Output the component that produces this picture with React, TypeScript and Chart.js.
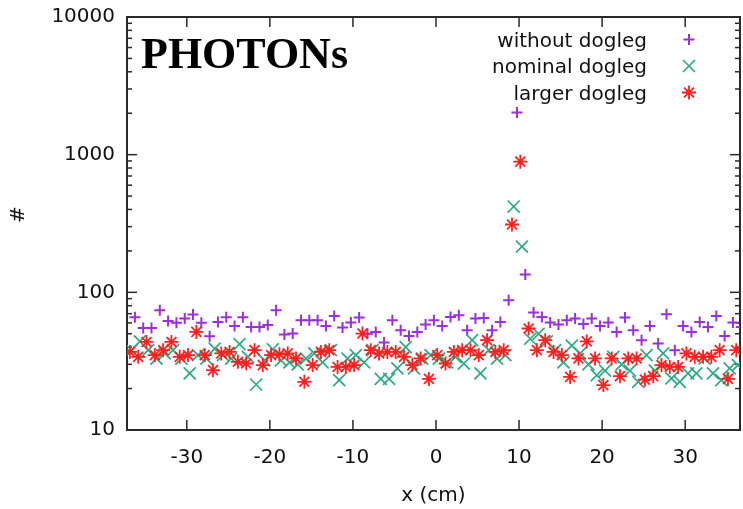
import React, { useEffect, useRef } from 'react';
import { Chart, registerables } from 'chart.js';
import { drawPoint } from 'chart.js/helpers';

Chart.register(...registerables);

const W = 743;
const H = 509;

// bin starts (cm)
const binStart = [
  -37, -36, -35, -34, -33, -32, -31, -30, -29, -28, -27, -26, -25, -24, -23, -22, -21, -20, -19,
  -18, -17, -16, -15, -14, -13, -12, -11, -10, -9, -8, -7, -6, -5, -4, -3, -2, -1,
  0, 1, 2, 3, 4, 5, 6, 7, 8, 9, 10, 11, 12, 13, 14, 15, 16, 17, 18,
  19, 20, 21, 22, 23, 24, 25, 26, 27, 28, 29, 30, 31, 32, 33, 34, 35, 36,
];

// per-series horizontal shift inside each bin
const withoutShift = 0.75;
const nominalShift = 0.35;
const largerShift = 0.15;

const withoutDogleg = [
  66, 55, 55, 74, 62, 60, 64.5, 69, 60, 48, 61, 66, 57, 66, 56, 56, 58, 74, 49.4,
  50.2, 62.7, 62.7, 62.7, 57, 67.3, 55.5, 60.3, 65.6, 50, 51.6, 43.2, 62.7, 53.1, 48.2, 51.6, 58.3, 62.7,
  57, 66.2, 68.1, 53.1, 64.5, 65.1, 53.1, 60.9, 87.5, 2024, 135, 71.3, 66.2, 60.3, 58.3, 62.7, 64.5, 59, 64.5,
  57, 60.3, 51.6, 65.6, 53.1, 44.9, 57, 42.5, 69.3, 38, 57, 51.6, 60.9, 56.1, 67.3, 48.2, 60.3, 56.1,
];

const nominalDogleg = [
  38, 44, 38, 33, 36, 38, 33, 25.8, 35, 33, 39, 35, 33, 42, 34, 21.4, 32, 38.6, 32,
  31, 30, 33, 36, 31, 38, 23, 33, 35, 31, 38, 23.5, 23.5, 28, 40, 28, 33, 35,
  33, 31, 34, 30.4, 45, 25.8, 38, 33, 35, 420, 215, 46, 50, 44, 38, 31, 41, 36, 30,
  25, 27, 34, 30, 27, 22.4, 35, 27, 36, 23.7, 22.4, 25.8, 25.8, 33, 25.8, 23, 28, 29.6,
];

const largerDogleg = [
  36.9, 34, 43.6, 35, 38, 43.6, 34, 35, 51.6, 35, 27.2, 36, 36.9, 31.3, 30.4, 38, 29.6, 35, 35.5,
  36, 33.1, 22.4, 29.6, 36.9, 38, 28.7, 28.7, 29.6, 50.2, 38, 36, 36.9, 36.9, 34, 29.6, 33.1, 23.5,
  35, 30.4, 36.9, 38, 38, 35, 44.9, 36.9, 38, 311, 890, 54.6, 38, 44.9, 36.9, 35, 24.3, 33.1, 44,
  33.1, 21.2, 33.1, 24.6, 33.1, 33.1, 23.2, 24.6, 29.6, 28.7, 28.7, 36, 34, 34, 34, 38, 23.5, 38,
];

const seriesLabels = ['without dogleg', 'nominal dogleg', 'larger dogleg'];
const xTickValues = [-30, -20, -10, 0, 10, 20, 30];
const yTickValues = [10, 100, 1000, 10000];
const xRange = [-37.2, 36.6];
const yRange = [10, 10000];
const plotTitle = 'PHOTONs';
const xTitle = 'x (cm)';
const yTitle = '#';

const PURPLE = '#9a2fdc';
const GREEN = '#2fa886';
const RED = '#ff2020';
const AXIS = '#2a2a2a';
const TEXT = '#111111';
const FONT = 'DejaVu Sans';

const toPoints = (vals: number[], shift: number) =>
  vals.map((v, i) => ({ x: binStart[i] + shift, y: v }));

const markerDefs = [
  { style: 'cross', radius: 5.5, width: 2, color: PURPLE },
  { style: 'crossRot', radius: 8.5, width: 1.7, color: GREEN },
  { style: 'star', radius: 7, width: 1.8, color: RED },
];

const overlayPlugin = {
  id: 'gnuplotOverlay',
  beforeDatasetsDraw(chart: any) {
    const { ctx, chartArea: a, scales } = chart;
    ctx.save();
    ctx.strokeStyle = AXIS;
    ctx.lineWidth = 1.5;
    const seg = (x1: number, y1: number, x2: number, y2: number) => {
      ctx.beginPath();
      ctx.moveTo(x1, y1);
      ctx.lineTo(x2, y2);
      ctx.stroke();
    };
    const MAJ = 10;
    const MIN = 5;
    for (const v of xTickValues) {
      const px = scales.x.getPixelForValue(v);
      seg(px, a.bottom, px, a.bottom - MAJ);
      seg(px, a.top, px, a.top + MAJ);
    }
    for (let i = 0; i < yTickValues.length; i++) {
      const dec = yTickValues[i];
      const py = scales.y.getPixelForValue(dec);
      seg(a.left, py, a.left + MAJ, py);
      seg(a.right, py, a.right - MAJ, py);
      if (i < yTickValues.length - 1) {
        for (let m = 2; m <= 9; m++) {
          const pm = scales.y.getPixelForValue(m * dec);
          seg(a.left, pm, a.left + MIN, pm);
          seg(a.right, pm, a.right - MIN, pm);
        }
      }
    }
    ctx.lineWidth = 2;
    ctx.strokeRect(a.left, a.top, a.right - a.left, a.bottom - a.top);
    ctx.restore();
  },
  afterDraw(chart: any) {
    const { ctx } = chart;
    ctx.save();
    // title inside plot
    ctx.fillStyle = '#000';
    ctx.font = 'bold 44px "Liberation Serif"';
    ctx.textAlign = 'left';
    ctx.textBaseline = 'alphabetic';
    ctx.fillText(plotTitle, 141, 68);

    // y title
    ctx.font = `20px "${FONT}"`;
    ctx.fillStyle = TEXT;
    ctx.save();
    ctx.translate(18.5, 214.5);
    ctx.rotate(-Math.PI / 2);
    ctx.textAlign = 'center';
    ctx.textBaseline = 'middle';
    ctx.fillText(yTitle, 0, 0);
    ctx.restore();

    // legend
    const rowY = [39.5, 66, 92.5];
    ctx.textAlign = 'right';
    ctx.textBaseline = 'alphabetic';
    for (let i = 0; i < seriesLabels.length; i++) {
      ctx.fillStyle = TEXT;
      ctx.fillText(seriesLabels[i], 647, rowY[i] + 7);
      const m = markerDefs[i];
      ctx.strokeStyle = m.color;
      ctx.fillStyle = m.color;
      ctx.lineWidth = m.width;
      drawPoint(ctx, { pointStyle: m.style, radius: m.radius, borderWidth: m.width, rotation: 0 } as any, 689, rowY[i]);
    }
    ctx.restore();
  },
};

export default function App() {
  const ref = useRef<HTMLCanvasElement>(null);
  useEffect(() => {
    if (!ref.current) return;
    const datasets = [withoutDogleg, nominalDogleg, largerDogleg].map((vals, i) => {
      const shift = [withoutShift, nominalShift, largerShift][i];
      const m = markerDefs[i];
      return {
        label: seriesLabels[i],
        data: toPoints(vals, shift),
        showLine: false,
        pointStyle: m.style,
        pointRadius: m.radius,
        pointBorderWidth: m.width,
        borderColor: m.color,
        backgroundColor: m.color,
        pointBorderColor: m.color,
        pointBackgroundColor: m.color,
        order: 3 - i,
      };
    });
    const chart = new Chart(ref.current, {
      type: 'scatter',
      data: { datasets: datasets as any },
      plugins: [overlayPlugin],
      options: {
        animation: false,
        responsive: false,
        devicePixelRatio: 1,
        events: [],
        layout: { autoPadding: false, padding: { left: 0, top: 17, right: 3, bottom: 0 } },
        plugins: { legend: { display: false }, tooltip: { enabled: false } },
        scales: {
          x: {
            type: 'linear',
            position: 'bottom',
            min: xRange[0],
            max: xRange[1],
            grid: { display: false, drawTicks: false },
            border: { display: false },
            afterBuildTicks: (s: any) => {
              s.ticks = xTickValues.map((v) => ({ value: v }));
            },
            afterFit: (s: any) => {
              s.height = 79;
              s.paddingLeft = 0;
              s.paddingRight = 0;
              s.paddingTop = 0;
              s.paddingBottom = 0;
            },
            ticks: {
              padding: 16,
              color: TEXT,
              font: { family: FONT, size: 20 },
              maxRotation: 0,
              autoSkip: false,
              callback: (v: any) => String(v),
            },
            title: {
              display: true,
              text: xTitle,
              color: TEXT,
              font: { family: FONT, size: 20 },
              padding: { top: 0, bottom: 1 },
            },
          },
          y: {
            type: 'logarithmic',
            position: 'left',
            min: yRange[0],
            max: yRange[1],
            grid: { display: false, drawTicks: false },
            border: { display: false },
            afterBuildTicks: (s: any) => {
              s.ticks = yTickValues.map((v) => ({ value: v }));
            },
            afterFit: (s: any) => {
              s.width = 127;
              s.paddingLeft = 0;
              s.paddingRight = 0;
              s.paddingTop = 0;
              s.paddingBottom = 0;
            },
            ticks: {
              padding: 12,
              color: TEXT,
              font: { family: FONT, size: 20 },
              autoSkip: false,
              callback: (v: any) => String(v),
            },
          },
        },
      } as any,
    });
    return () => chart.destroy();
  }, []);
  return (
    <div style={{ position: 'absolute', left: 0, top: 0, width: W, height: H, background: '#fff' }}>
      <canvas ref={ref} width={W} height={H} style={{ display: 'block', width: W, height: H }} />
    </div>
  );
}
